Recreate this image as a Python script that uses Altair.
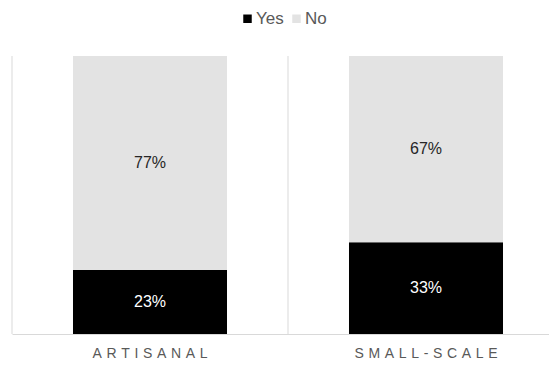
import altair as alt
import pandas as pd

categories = ["ARTISANAL", "SMALL-SCALE"]
yes_values = [23, 33]
no_values = [77, 67]
series = ["Yes", "No"]
colors = ["#000000", "#e3e3e3"]

SP = "\u2004"
def spaced(s):
    return SP.join(list(s))

rows = []
for c, y, n in zip(categories, yes_values, no_values):
    rows.append({"category": spaced(c), "series": "Yes", "value": y, "order": 0})
    rows.append({"category": spaced(c), "series": "No", "value": n, "order": 1})
df = pd.DataFrame(rows)
cat_order = [spaced(c) for c in categories]
sep_df = pd.DataFrame({"category": cat_order})

FONT = "Liberation Sans"
STEP = 276
PAD_IN = 0.442
PAD_OUT = 0.221

x_scale = alt.Scale(domain=cat_order, range=[0, 2 * STEP], paddingInner=PAD_IN, paddingOuter=PAD_OUT)
x_axis = alt.Axis(
    labelAngle=0, ticks=False, grid=False,
    domainColor="#d9d9d9", domainWidth=1,
    labelColor="#595959", labelFont=FONT, labelFontSize=14, labelPadding=12,
)
x_enc = alt.X("category:N", sort=cat_order, title=None, scale=x_scale, axis=x_axis)

base = alt.Chart(df).transform_stack(
    stack="value", groupby=["category"], as_=["y0", "y1"],
    sort=[alt.SortField("order", order="ascending")]
).transform_calculate(
    mid="(datum.y0 + datum.y1) / 2",
    label="datum.value + '%'"
)

y_scale = alt.Scale(domain=[0, 100], nice=False)

seps = alt.Chart(sep_df).mark_rule(color="#d9d9d9", strokeWidth=1).encode(
    x=alt.X("category:N", sort=cat_order, title=None, scale=x_scale, axis=x_axis, bandPosition=0),
    xOffset=alt.value(-STEP * PAD_IN / 2),
)

bars = base.mark_bar().encode(
    x=x_enc,
    y=alt.Y("y0:Q", scale=y_scale, axis=None),
    y2="y1:Q",
    color=alt.Color(
        "series:N",
        scale=alt.Scale(domain=series, range=colors),
        legend=alt.Legend(
            title=None, orient="none", direction="horizontal",
            legendX=227, legendY=-46, symbolType="square", symbolSize=72,
            symbolStrokeWidth=0, labelFont=FONT, labelFontSize=17,
            labelColor="#595959", labelOffset=0, columnPadding=4,
        ),
    ),
)

texts = base.mark_text(font=FONT, fontSize=16).encode(
    x=x_enc,
    y=alt.Y("mid:Q", scale=y_scale, axis=None),
    text="label:N",
    color=alt.condition(alt.datum.series == "Yes", alt.value("#ffffff"), alt.value("#262626")),
)

chart = alt.layer(seps, bars, texts).properties(
    width=537, height=278,
    autosize=alt.AutoSizeParams(type="none"),
    padding={"left": 4, "top": 48, "right": 0, "bottom": 30},
    background="#ffffff",
).configure_view(stroke=None)

chart.save("out.html", embed_options={"renderer": "svg", "actions": False})
